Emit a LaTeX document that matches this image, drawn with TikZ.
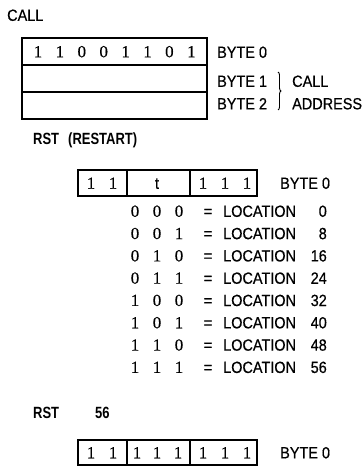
\documentclass[tikz,border=0pt]{standalone}
\usepackage{fontspec}
\usetikzlibrary{decorations.pathreplacing}
\newfontfamily\labfont[FakeStretch=0.89,FakeBold=0.5]{Liberation Sans}
\newfontfamily\boldfont[FakeStretch=0.8]{Liberation Sans}
\newfontfamily\digfont[FakeBold=0.4]{Liberation Serif}
\begin{document}
\begin{tikzpicture}[x=1bp,y=-1bp,
  lbl/.style={font=\labfont\fontsize{16.3}{16}\selectfont, inner sep=0pt, anchor=west, text height=11.7bp, text depth=0pt},
  bld/.style={font=\boldfont\bfseries\fontsize{16.3}{16}\selectfont, inner sep=0pt, anchor=west, text height=11.7bp, text depth=0pt},
  dig/.style={font=\digfont\fontsize{17}{17}\selectfont, inner sep=0pt, text height=11.5bp, text depth=0pt},
  cell/.style={draw, line width=1.8bp, inner sep=0pt},
  brc/.style={decorate, decoration={brace, amplitude=3bp}, line width=0.9bp}]
\useasboundingbox (0,0) rectangle (362,468);
% ---------------- CALL ----------------
\node[lbl] (callt) at (7,15) {CALL};
\node[cell, minimum width=185bp, minimum height=27bp] (b0) at (114.5,51.5) {};
\node[cell, minimum width=185bp, minimum height=27bp] (b1) at (114.5,78.5) {};
\node[cell, minimum width=185bp, minimum height=27bp] (b2) at (114.5,105.5) {};
\foreach \d [count=\i from 0] in {1,1,0,0,1,1,0,1}
  \node[dig] (c\i) at (38+21.9*\i,51.5) {\d};
\node[lbl] (l0) at (217,52) {BYTE 0};
\node[lbl] (l1) at (217,81) {BYTE 1};
\node[lbl] (l2) at (217,103.5) {BYTE 2};
\coordinate (bt) at (278,72);
\coordinate (bb) at (278,110);
\draw[brc] (bt) -- (bb);
\node[lbl] (ca) at (292,81) {CALL};
\node[lbl] (ad) at (292,103.5) {ADDRESS};
% ---------------- RST ----------------
\node[bld] (rst1) at (33,139) {RST};
\node[bld] (rest) at (68,139) {(RESTART)};
\node[cell, minimum width=49bp, minimum height=26bp] (s1) at (102.5,183) {};
\node[cell, minimum width=63bp, minimum height=26bp] (s2) at (158.5,183) {};
\node[cell, minimum width=67bp, minimum height=26bp] (s3) at (223.5,183) {};
\node[dig] (s1a) at (91,183) {1};
\node[dig] (s1b) at (113,183) {1};
\node[lbl, anchor=center] (st) at (157,183) {t};
\node[dig] (s3a) at (203,183) {1};
\node[dig] (s3b) at (225,183) {1};
\node[dig] (s3c) at (247,183) {1};
\node[lbl] (lb2) at (280,183) {BYTE 0};
\foreach \a/\b/\c/\n [count=\i from 0] in {0/0/0/0,0/0/1/8,0/1/0/16,0/1/1/24,1/0/0/32,1/0/1/40,1/1/0/48,1/1/1/56}{
  \node[dig] (ta\i) at (135,211+22.3*\i) {\a};
  \node[dig] (tb\i) at (157,211+22.3*\i) {\b};
  \node[dig] (tc\i) at (179,211+22.3*\i) {\c};
  \node[lbl, anchor=center] (te\i) at (208,211+22.3*\i) {=};
  \node[lbl] (tl\i) at (223,211+22.3*\i) {LOCATION};
  \node[lbl, anchor=east] (tn\i) at (327,211+22.3*\i) {\n};
}
% ---------------- RST 56 ----------------
\node[bld] (rst2) at (33,413) {RST};
\node[bld] (n56) at (95,413) {56};
\node[cell, minimum width=49bp, minimum height=25bp] (u1) at (102.5,452.5) {};
\node[cell, minimum width=63bp, minimum height=25bp] (u2) at (158.5,452.5) {};
\node[cell, minimum width=67bp, minimum height=25bp] (u3) at (223.5,452.5) {};
\foreach \x [count=\i] in {91,113,137,157,178,203,225,247}
  \node[dig] (ud\i) at (\x,452.5) {1};
\node[lbl] (lb3) at (280,452.5) {BYTE 0};
\end{tikzpicture}
\end{document}
